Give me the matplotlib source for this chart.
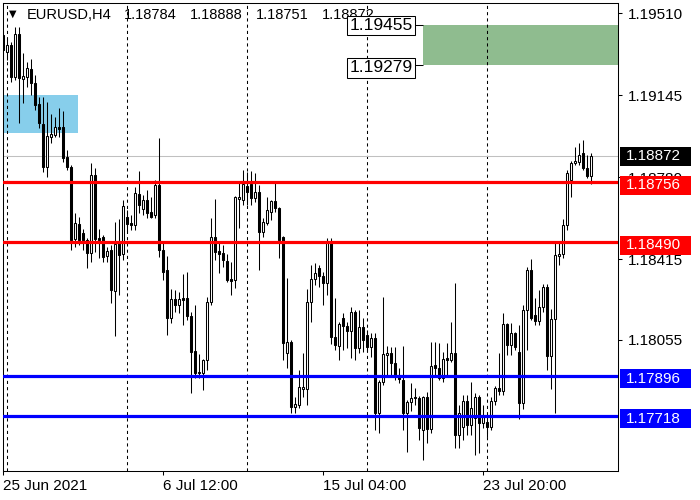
import matplotlib
matplotlib.use('Agg')
import matplotlib.pyplot as plt
import matplotlib.transforms as mtransforms
from matplotlib.patches import Rectangle

plt.rcParams['font.family'] = ['Liberation Sans', 'DejaVu Sans']

# EURUSD H4 candles, 25 Jun 2021 20:00 onwards
opens = [1.19412, 1.19337, 1.19368, 1.19225, 1.19417, 1.19216, 1.19225, 1.19261, 1.19199, 1.19105,
         1.19016, 1.18825, 1.18958, 1.18967, 1.19003, 1.19003, 1.18869, 1.18825, 1.18504, 1.18571,
         1.18531, 1.18500, 1.18442, 1.18789, 1.18509, 1.18513, 1.18429, 1.18455, 1.18273, 1.18487,
         1.18438, 1.18602, 1.18576, 1.18567, 1.18705, 1.18638, 1.18678, 1.18625, 1.18611, 1.18745,
         1.18455, 1.18366, 1.18153, 1.18237, 1.18211, 1.18242, 1.18242, 1.18162, 1.18006, 1.17908,
         1.17908, 1.17966, 1.18224, 1.18513, 1.18451, 1.18442, 1.18407, 1.18326, 1.18322, 1.18682,
         1.18678, 1.18740, 1.18749, 1.18687, 1.18714, 1.18536, 1.18576, 1.18625, 1.18674, 1.18642,
         1.18513, 1.17997, 1.18046, 1.17757, 1.17766, 1.17837, 1.17837, 1.18224, 1.18326, 1.18375,
         1.18340, 1.18309, 1.18491, 1.18068, 1.18028, 1.18153, 1.18117, 1.18095, 1.18180, 1.18019,
         1.18113, 1.18077, 1.18024, 1.18064, 1.17730, 1.17868, 1.17988, 1.17997, 1.17953, 1.17899,
         1.17877, 1.17730, 1.17779, 1.17801, 1.17797, 1.17654, 1.17801, 1.17659, 1.17944, 1.17930,
         1.17886, 1.17975, 1.17966, 1.17997, 1.17632, 1.17668, 1.17784, 1.17677, 1.17708, 1.17801,
         1.17686, 1.17690, 1.17668, 1.17784, 1.17841, 1.17828, 1.18126, 1.18033, 1.18086, 1.18002,
         1.17775, 1.18188, 1.18366, 1.18166, 1.18140, 1.18202, 1.18291, 1.17984, 1.18148, 1.18429,
         1.18438, 1.18567, 1.18767, 1.18843, 1.18847, 1.18887, 1.18820, 1.18784]
highs = [1.19430, 1.19399, 1.19381, 1.19448, 1.19448, 1.19332, 1.19292, 1.19305, 1.19234, 1.19136,
         1.19136, 1.19114, 1.19061, 1.19047, 1.19087, 1.19074, 1.18900, 1.18834, 1.18620, 1.18602,
         1.18549, 1.18509, 1.18843, 1.18820, 1.18549, 1.18522, 1.18469, 1.18478, 1.18580, 1.18593,
         1.18678, 1.18633, 1.18611, 1.18736, 1.18807, 1.18700, 1.18722, 1.18691, 1.18767, 1.18954,
         1.18491, 1.18429, 1.18282, 1.18277, 1.18269, 1.18349, 1.18358, 1.18180, 1.18211, 1.17993,
         1.17970, 1.18246, 1.18598, 1.18682, 1.18487, 1.18478, 1.18438, 1.18402, 1.18696, 1.18758,
         1.18811, 1.18803, 1.18807, 1.18798, 1.18745, 1.18598, 1.18691, 1.18678, 1.18754, 1.18647,
         1.18518, 1.18331, 1.18055, 1.17801, 1.17921, 1.17997, 1.18282, 1.18389, 1.18398, 1.18389,
         1.18358, 1.18509, 1.18509, 1.18242, 1.18135, 1.18175, 1.18135, 1.18202, 1.18188, 1.18188,
         1.18153, 1.18099, 1.18086, 1.18086, 1.17877, 1.18246, 1.18028, 1.18024, 1.18024, 1.17930,
         1.18028, 1.17788, 1.17864, 1.17841, 1.17806, 1.17806, 1.17824, 1.18046, 1.18046, 1.18042,
         1.18002, 1.18042, 1.18135, 1.18309, 1.17766, 1.17810, 1.17810, 1.17868, 1.17819, 1.17810,
         1.17766, 1.17712, 1.17801, 1.17850, 1.17997, 1.18175, 1.18131, 1.18131, 1.18091, 1.18122,
         1.18211, 1.18380, 1.18415, 1.18242, 1.18277, 1.18304, 1.18304, 1.18193, 1.18487, 1.18487,
         1.18593, 1.18811, 1.18852, 1.18914, 1.18932, 1.18945, 1.18878, 1.18888]
lows = [1.19274, 1.19301, 1.19203, 1.19212, 1.19021, 1.19110, 1.19181, 1.19145, 1.19078, 1.18998,
        1.18803, 1.18780, 1.18932, 1.18958, 1.18958, 1.18847, 1.18811, 1.18455, 1.18469, 1.18478,
        1.18455, 1.18375, 1.18402, 1.18447, 1.18420, 1.18402, 1.18402, 1.18220, 1.18073, 1.18255,
        1.18411, 1.18536, 1.18544, 1.18544, 1.18620, 1.18611, 1.18598, 1.18598, 1.18598, 1.18424,
        1.18322, 1.18077, 1.18131, 1.18180, 1.18175, 1.18122, 1.18144, 1.17819, 1.17886, 1.17886,
        1.17832, 1.17921, 1.18211, 1.18411, 1.18353, 1.18380, 1.18313, 1.18255, 1.18286, 1.18553,
        1.18656, 1.18656, 1.18656, 1.18669, 1.18366, 1.18513, 1.18567, 1.18589, 1.18625, 1.18420,
        1.17966, 1.17930, 1.17730, 1.17730, 1.17752, 1.17801, 1.17766, 1.18135, 1.18300, 1.18291,
        1.18211, 1.18255, 1.18037, 1.18010, 1.17966, 1.18010, 1.18019, 1.17975, 1.17966, 1.17997,
        1.18002, 1.18002, 1.17979, 1.17654, 1.17641, 1.17855, 1.17899, 1.17899, 1.17877, 1.17864,
        1.17654, 1.17557, 1.17739, 1.17766, 1.17610, 1.17521, 1.17597, 1.17641, 1.17899, 1.17877,
        1.17868, 1.17899, 1.17957, 1.17574, 1.17574, 1.17610, 1.17632, 1.17632, 1.17543, 1.17552,
        1.17663, 1.17623, 1.17654, 1.17766, 1.17810, 1.17810, 1.17988, 1.17988, 1.18010, 1.17703,
        1.17748, 1.18010, 1.18144, 1.18122, 1.18122, 1.18180, 1.17921, 1.17837, 1.17730, 1.18389,
        1.18420, 1.18544, 1.18691, 1.18834, 1.18834, 1.18811, 1.18776, 1.18751]
closes = [1.19345, 1.19368, 1.19225, 1.19417, 1.19221, 1.19230, 1.19265, 1.19199, 1.19101, 1.19021,
          1.18825, 1.18963, 1.18972, 1.19003, 1.18994, 1.18865, 1.18825, 1.18500, 1.18576, 1.18500,
          1.18500, 1.18442, 1.18789, 1.18504, 1.18500, 1.18424, 1.18451, 1.18277, 1.18482, 1.18433,
          1.18651, 1.18571, 1.18567, 1.18709, 1.18656, 1.18678, 1.18620, 1.18602, 1.18745, 1.18455,
          1.18358, 1.18153, 1.18237, 1.18211, 1.18237, 1.18233, 1.18162, 1.18002, 1.17908, 1.17913,
          1.17966, 1.18224, 1.18513, 1.18447, 1.18438, 1.18411, 1.18322, 1.18318, 1.18691, 1.18691,
          1.18749, 1.18714, 1.18687, 1.18714, 1.18536, 1.18580, 1.18633, 1.18674, 1.18642, 1.18500,
          1.18042, 1.18046, 1.17757, 1.17770, 1.17846, 1.17846, 1.18224, 1.18326, 1.18353, 1.18340,
          1.18309, 1.18491, 1.18068, 1.18033, 1.18126, 1.18117, 1.18095, 1.18180, 1.18019, 1.18113,
          1.18055, 1.18024, 1.18064, 1.17730, 1.17868, 1.17993, 1.17997, 1.17953, 1.17890, 1.17881,
          1.17730, 1.17779, 1.17797, 1.17797, 1.17663, 1.17801, 1.17659, 1.17939, 1.17930, 1.17886,
          1.17970, 1.17966, 1.17997, 1.17632, 1.17730, 1.17784, 1.17677, 1.17752, 1.17801, 1.17686,
          1.17712, 1.17668, 1.17784, 1.17841, 1.17828, 1.18126, 1.18033, 1.18086, 1.18024, 1.17775,
          1.18188, 1.18366, 1.18153, 1.18140, 1.18202, 1.18291, 1.17984, 1.18148, 1.18433, 1.18438,
          1.18567, 1.18798, 1.18843, 1.18852, 1.18878, 1.18820, 1.18785, 1.18872]

date_ticks = [0, 40, 80, 120]
date_labels = ['25 Jun 2021', '6 Jul 12:00', '15 Jul 04:00', '23 Jul 20:00']
week_starts = [1, 31, 61, 91, 121]
price_ticks = [1.19510, 1.19145, 1.18780, 1.18415, 1.18055]

resistance = [1.18756, 1.18490]
support = [1.17896, 1.17718]
bid = 1.18872
blue_zone = [1.18976, 1.19145]      # price range
blue_zone_bars = [-1, 18.75]
green_zone = [1.19279, 1.19455]
green_zone_start = 105

fig = plt.figure(figsize=(7, 5), dpi=100)
W, H = 700, 500
ax = fig.add_axes([2.5 / W, 29 / H, 615.5 / W, 468 / H])
ax.set_xlim(-0.125, 153.75)
ax.set_ylim(1.174720, 1.195547)
px = (1.195547 - 1.174720) / 468   # price per pixel

# zones
ax.add_patch(Rectangle((blue_zone_bars[0], blue_zone[0]), blue_zone_bars[1] - blue_zone_bars[0],
                       blue_zone[1] - blue_zone[0], facecolor='#87CEEB', edgecolor='none', zorder=1))
ax.add_patch(Rectangle((green_zone_start - 0.1, green_zone[0]), 60, green_zone[1] - green_zone[0],
                       facecolor='#8FBC8F', edgecolor='none', zorder=1))

# week separators and bid line
for s in week_starts:
    ax.axvline(s, color='black', lw=0.75, linestyle=(0, (3, 3)), zorder=1.5)
ax.axhline(bid, color='#C0C0C0', lw=0.75, zorder=1.6)

# candles
xs = list(range(len(opens)))
ax.vlines(xs, lows, highs, color='black', lw=0.75, zorder=3)
bottoms = [min(o, c) for o, c in zip(opens, closes)]
heights = [max(abs(c - o), 0.00003) for o, c in zip(opens, closes)]
colors = ['white' if c >= o else 'black' for o, c in zip(opens, closes)]
ax.bar(xs, heights, bottom=bottoms, width=0.6, color=colors, edgecolor='black',
       linewidth=0.75, zorder=4)

# support / resistance lines
for r in resistance:
    ax.axhline(r, color='red', lw=2.3, zorder=5)
for s in support:
    ax.axhline(s, color='blue', lw=2.3, zorder=5)

# axes styling
for sp in ax.spines.values():
    sp.set_linewidth(0.75)
ax.yaxis.tick_right()
ax.set_yticks(price_ticks)
ax.set_yticklabels([f'{t:.5f}' for t in price_ticks])
ax.tick_params(axis='y', direction='out', length=3, width=0.75, pad=4, labelsize=11)
ax.set_xticks(date_ticks)
ax.set_xticklabels(date_labels, ha='left')
ax.tick_params(axis='x', direction='out', length=3, width=0.75, pad=3, labelsize=11)

# price boxes on the right scale
trans = mtransforms.blended_transform_factory(ax.transAxes, ax.transData)
box_h = 9.5 * px
price_boxes = [(bid, 'black', 0)] + [(r, 'red', 3) for r in resistance] + [(s, 'blue', 3) for s in support]
for price, fc, shift in price_boxes:
    yc = price - shift * px
    ax.add_patch(Rectangle((1.003, yc - box_h), 0.116, 2 * box_h, transform=trans,
                           facecolor=fc, edgecolor='none', clip_on=False, zorder=10))
    ax.text(1.0135, yc, f'{price:.5f}', transform=trans, color='white', fontsize=11,
            va='center', ha='left', zorder=11, clip_on=False)

# title line
ax.text(12.5 / W, 1 - 14 / H, '▼', transform=fig.transFigure, fontsize=7,
        family='DejaVu Sans', ha='center', va='center', zorder=8, clip_on=False)
ax.text(27 / W, 1 - 15 / H, 'EURUSD,H4', transform=fig.transFigure, fontsize=10.5,
        va='center', ha='left', zorder=8, clip_on=False)
last = [opens[-1], highs[-1], lows[-1], closes[-1]]
for i, v in enumerate(last):
    ax.text((124 + 66 * i) / W, 1 - 15 / H, f'{v:.5f}', transform=fig.transFigure,
            fontsize=10.5, va='center', ha='left', zorder=8, clip_on=False)

# green zone labels
for price, shift in zip(green_zone, [3, 0]):
    ax.hlines(price, 102.5, green_zone_start, color='black', lw=0.75, zorder=6)
    ax.text(102.4, price - shift * px, f'{price:.5f}', fontsize=12.5, ha='right', va='center',
            zorder=12, bbox=dict(boxstyle='square,pad=0.12', facecolor='white',
                                 edgecolor='black', linewidth=0.75))

fig.savefig('out.png', dpi=100)
